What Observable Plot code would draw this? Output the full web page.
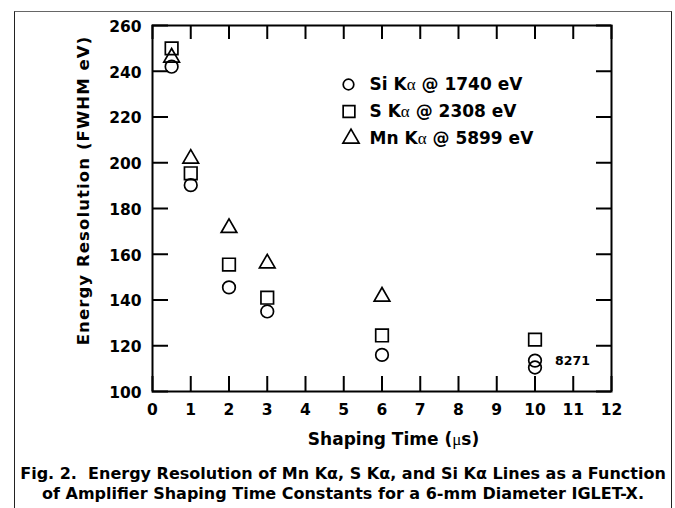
<!DOCTYPE html>
<html><head><meta charset="utf-8">
<script src="https://cdn.jsdelivr.net/npm/d3@7"></script>
<script src="https://cdn.jsdelivr.net/npm/@observablehq/plot@0.6"></script>
<style>
html,body{margin:0;padding:0;background:#fff;}
#wrap{position:relative;width:675px;height:508px;overflow:hidden;background:#fff;}
#frame{position:absolute;left:14px;top:11px;width:658px;height:530px;border:1.5px solid #222;border-top-color:#666;border-bottom:none;box-sizing:border-box;}
#chart{position:absolute;left:0;top:0;}
#caption{position:absolute;left:15px;width:656px;top:464px;text-align:center;font-family:"DejaVu Sans";font-weight:bold;font-size:16px;line-height:19.5px;white-space:nowrap;color:#000;}
</style></head><body>
<div id="wrap"><div id="frame"></div><div id="chart"></div><div id="caption"></div></div>
<script>
// ---- data ----
const seriesNames = ["Si K\u03b1 @ 1740 eV", "S K\u03b1 @ 2308 eV", "Mn K\u03b1 @ 5899 eV"];
const siX = [0.5, 1, 2, 3, 6, 10, 10];
const siY = [242, 190.2, 145.5, 135, 116, 113.5, 110.5];
const sX  = [0.5, 1, 2, 3, 6, 10];
const sY  = [250, 195.4, 155.5, 141, 124.5, 122.7];
const mnX = [0.5, 1, 2, 3, 6];
const mnY = [246, 201.8, 171.5, 156, 141.5];
const xTicks = [0, 1, 2, 3, 4, 5, 6, 7, 8, 9, 10, 11, 12];
const yTicks = [100, 120, 140, 160, 180, 200, 220, 240, 260];
const xLabel = "Shaping Time (\u03bcs)";
const yLabel = "Energy Resolution (FWHM eV)";
const annotation = ["8271"];
const captionLines = [
  "Fig. 2.\u00a0 Energy Resolution of Mn K\u03b1, S K\u03b1, and Si K\u03b1 Lines as a Function",
  "of Amplifier Shaping Time Constants for a 6-mm Diameter IGLET-X."
];

// ---- build ----
const toRows = (xs, ys) => xs.map((x, i) => ({x, y: ys[i]}));
const series = [
  {name: seriesNames[0], symbol: "circle",   rows: toRows(siX, siY)},
  {name: seriesNames[1], symbol: "square",   rows: toRows(sX, sY)},
  {name: seriesNames[2], symbol: "triangle", rows: toRows(mnX, mnY)}
];
const symStyle = {
  circle:   {r: 6.3, lr: 5.3, lhalf: 6},
  square:   {r: 7.1, lr: 6.6, lhalf: 6.5},
  triangle: {r: 5.8, lr: 6.0, lhalf: 8.5}
};
const W = 675, H = 455, mL = 152, mR = 64, mT = 25, mB = 64;
const frameW = W - mL - mR, frameH = H - mT - mB;
const legendLeft = 342, legendTop = 84, legendStep = 27, legendTextX = 369;
const tickStyle = {stroke: "#000", strokeWidth: 2};

const marks = [
  // inward ticks on all four sides
  Plot.tickX(xTicks, {x: d => d, insetTop: frameH - 15, ...tickStyle}),
  Plot.tickX(xTicks, {x: d => d, insetBottom: frameH - 14, ...tickStyle}),
  Plot.tickY(yTicks, {y: d => d, insetRight: frameW - 16, ...tickStyle}),
  Plot.tickY(yTicks, {y: d => d, insetLeft: frameW - 15, ...tickStyle}),
  Plot.axisX({anchor: "bottom", ticks: xTicks, tickSize: 0, tickPadding: 12, stroke: "none", fontSize: 15.5, fontWeight: "bold", fill: "#000", label: null}),
  Plot.axisY({anchor: "left", ticks: yTicks, tickSize: 0, tickPadding: 11, stroke: "none", dy: 1.5, fontSize: 15.5, fontWeight: "bold", fill: "#000", label: null}),
  Plot.frame({stroke: "#000", strokeWidth: 2}),
  ...series.map(s => Plot.dot(s.rows, {x: "x", y: "y", symbol: () => s.symbol, r: symStyle[s.symbol].r, stroke: "#000", fill: "none", strokeWidth: 1.7})),
  ...series.map((s, i) => Plot.dot([s.name], {frameAnchor: "top-left", dx: legendLeft - mL + symStyle[s.symbol].lhalf, dy: legendTop - mT + legendStep * i, symbol: () => s.symbol, r: symStyle[s.symbol].lr, stroke: "#000", fill: "none", strokeWidth: 1.7})),
  ...series.map((s, i) => Plot.text([s.name], {frameAnchor: "top-left", text: d => d, dx: legendTextX - mL, dy: legendTop - mT + legendStep * i, textAnchor: "start", lineAnchor: "middle", fontSize: 17, fontWeight: "bold", fill: "#000"})),
  Plot.text(annotation, {frameAnchor: "bottom-right", text: d => d, dx: -39, dy: -31, textAnchor: "middle", lineAnchor: "middle", fontSize: 12.5, fontWeight: "bold", fill: "#000"}),
  Plot.text([xLabel], {frameAnchor: "bottom", text: d => d, dx: 11.5, dy: 48.5, textAnchor: "middle", lineAnchor: "middle", fontSize: 17, fontWeight: "bold", fill: "#000"}),
  Plot.text([yLabel], {frameAnchor: "left", text: d => d, dx: -69, dy: -18, rotate: -90, textAnchor: "middle", lineAnchor: "middle", fontSize: 16.5, fontWeight: "bold", fill: "#000"})
];

const chart = Plot.plot({
  width: W, height: H,
  marginLeft: mL, marginRight: mR, marginTop: mT, marginBottom: mB,
  x: {domain: [0, 12], axis: null},
  y: {domain: [100, 260], axis: null},
  style: {fontFamily: "DejaVu Sans", fontWeight: "bold", background: "transparent", color: "#000", overflow: "visible"},
  marks
});

// thin Greek letters (as in the original Symbol font)
const walker = document.createTreeWalker(chart, NodeFilter.SHOW_TEXT);
const nodes = [];
while (walker.nextNode()) nodes.push(walker.currentNode);
nodes.forEach(n => {
  const s = n.nodeValue;
  if (!/[\u03b1\u03bc]/.test(s)) return;
  const parent = n.parentNode;
  s.split(/([\u03b1\u03bc])/).forEach(part => {
    if (!part) return;
    const ts = document.createElementNS("http://www.w3.org/2000/svg", "tspan");
    ts.textContent = part;
    if (/[\u03b1\u03bc]/.test(part)) { ts.setAttribute("font-weight", "normal"); ts.setAttribute("font-family", "Liberation Serif"); }
    parent.insertBefore(ts, n);
  });
  parent.removeChild(n);
});
d3.select(chart).selectAll("text").filter(function() { return this.textContent === yLabel; }).style("letter-spacing", "1.1px");

document.getElementById("chart").appendChild(chart);
document.getElementById("caption").innerHTML = captionLines.join("<br>");
</script>
</body></html>
